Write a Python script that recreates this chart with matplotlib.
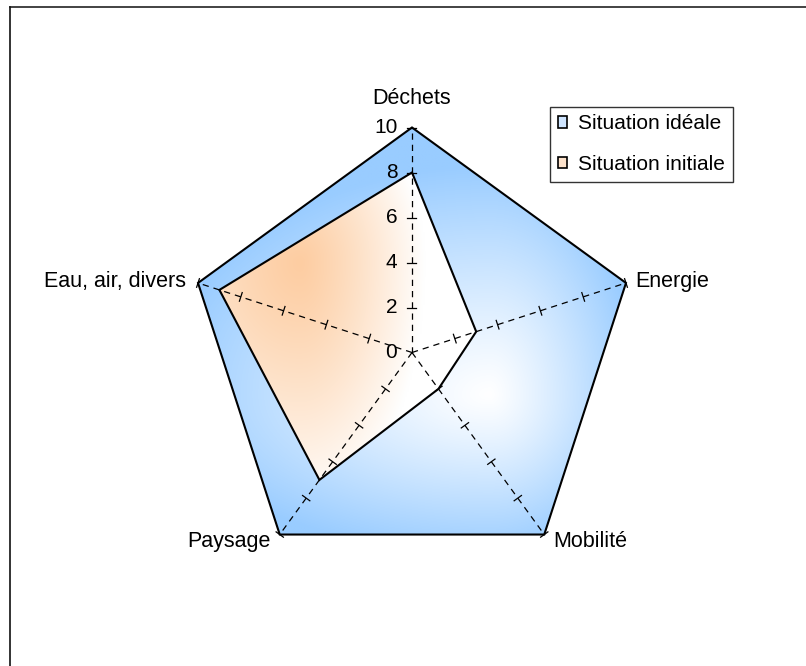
import numpy as np
import matplotlib
matplotlib.use("Agg")
import matplotlib.pyplot as plt
from matplotlib.patches import Polygon, Patch
from matplotlib.lines import Line2D

plt.rcParams['font.family'] = ['Liberation Sans', 'DejaVu Sans']

categories = ["Déchets", "Energie", "Mobilité", "Paysage", "Eau, air, divers"]
ideal = [10, 10, 10, 10, 10]
initial = [8, 3, 2, 7, 9]
tick_values = [0, 2, 4, 6, 8, 10]
tick_labels = ["0", "2", "4", "6", "8", "10"]
series_names = ["Situation idéale", "Situation initiale"]

W, H = 806, 666
PX = 22.5          # pixels per unit
CX, CY = 412, 352.5  # centre in pixels
FS_TICK = 15
FS_CAT = 15.5
FS_LEG = 15

fig = plt.figure(figsize=(W / 100, H / 100), dpi=100)
ax = fig.add_axes([0, 0, 1, 1])
ax.set_xlim(-CX / PX, (W - CX) / PX)
ax.set_ylim(-(H - CY) / PX, CY / PX)
ax.axis('off')

n = len(categories)
angles = np.deg2rad(90 - 72 * np.arange(n))
ux, uy = np.cos(angles), np.sin(angles)


def verts(vals):
    v = np.asarray(vals, float)
    return np.column_stack([v * ux, v * uy])


def gradient_image(poly, c_center, c_edge, center, rx_l, rx_r, ry_d, ry_u, gamma, zorder):
    xmin, xmax = ax.get_xlim()
    ymin, ymax = ax.get_ylim()
    xs = np.linspace(xmin, xmax, 500)
    ys = np.linspace(ymin, ymax, 420)
    X, Y = np.meshgrid(xs, ys)
    dx = X - center[0]
    dy = Y - center[1]
    rx = np.where(dx < 0, rx_l, rx_r)
    ry = np.where(dy < 0, ry_d, ry_u)
    t = np.clip(np.sqrt((dx / rx) ** 2 + (dy / ry) ** 2), 0, 1) ** gamma
    c0 = np.array(matplotlib.colors.to_rgb(c_center))
    c1 = np.array(matplotlib.colors.to_rgb(c_edge))
    img = c0[None, None, :] * (1 - t[..., None]) + c1[None, None, :] * t[..., None]
    im = ax.imshow(img, extent=[xmin, xmax, ymin, ymax], origin='lower',
                   interpolation='bilinear', zorder=zorder, aspect='auto')
    im.set_clip_path(poly)
    ax.set_xlim(xmin, xmax)
    ax.set_ylim(ymin, ymax)


def p2d(px, py):
    return ((px - CX) / PX, (CY - py) / PX)


# Ideal polygon
ideal_v = verts(ideal)
p_ideal = Polygon(ideal_v, closed=True, facecolor='none', edgecolor='black',
                  lw=1.5, joinstyle='miter', zorder=3)
ax.add_patch(p_ideal)
gradient_image(p_ideal, '#ffffff', '#99ccff', p2d(490, 395),
               330 / PX, 150 / PX, 160 / PX, 230 / PX, 1.15, 1)

# Initial polygon
init_v = verts(initial)
p_init = Polygon(init_v, closed=True, facecolor='none', edgecolor='black',
                 lw=1.5, joinstyle='miter', zorder=5)
ax.add_patch(p_init)
gradient_image(p_init, '#fdcda2', '#ffffff', p2d(300, 262),
               200 / PX, 125 / PX, 250 / PX, 170 / PX, 1.2, 4)

# Axes (dashed) and ticks
for k in range(n):
    ax.plot([0, 10 * ux[k]], [0, 10 * uy[k]], color='black', lw=0.9,
            dashes=(5, 4), zorder=6)
    px_, py_ = -uy[k], ux[k]
    for v in tick_values[1:]:
        h = 4.5 / PX
        bx, by = v * ux[k], v * uy[k]
        ax.plot([bx - h * px_, bx + h * px_], [by - h * py_, by + h * py_],
                color='black', lw=0.9, zorder=6)

# Radial tick labels on the first axis
for v, lab in zip(tick_values, tick_labels):
    ax.text(-0.65, v, lab, ha='right', va='center', fontsize=FS_TICK, zorder=7)

# Category labels
offsets = [(0, 0), (9, 1), (9, -7), (-9, -7), (-12, 1)]
has = ['center', 'left', 'left', 'right', 'right']
for k, cat in enumerate(categories):
    if k == 0:
        ax.text(0, 11.3, cat, ha='center', va='center', fontsize=FS_CAT, zorder=7)
    else:
        ax.annotate(cat, xy=(10 * ux[k], 10 * uy[k]), xytext=offsets[k],
                    textcoords='offset pixels', ha=has[k], va='center',
                    fontsize=FS_CAT, zorder=7)

# Legend
handles = [Patch(facecolor='#cfe5ff', edgecolor='black', lw=1.2),
           Patch(facecolor='#fde2cb', edgecolor='black', lw=1.2)]
leg = ax.legend(handles, series_names, loc='upper left',
                bbox_to_anchor=(550 / W, 1 - 106.5 / H),
                bbox_transform=fig.transFigure, fontsize=FS_LEG,
                frameon=True, fancybox=False, framealpha=1,
                edgecolor='#333333', borderpad=0.38, labelspacing=1.05,
                handlelength=0.45, handleheight=0.45, handletextpad=0.5,
                borderaxespad=0)
leg.get_frame().set_linewidth(1.0)

# Outer frame (top and left visible)
fig.add_artist(Line2D([10 / W, 1], [1 - 6.5 / H, 1 - 6.5 / H],
                      transform=fig.transFigure, color='#222222', lw=1.2))
fig.add_artist(Line2D([10 / W, 10 / W], [0, 1 - 6.5 / H],
                      transform=fig.transFigure, color='#111111', lw=1.2))

fig.savefig('out.png', dpi=100)
